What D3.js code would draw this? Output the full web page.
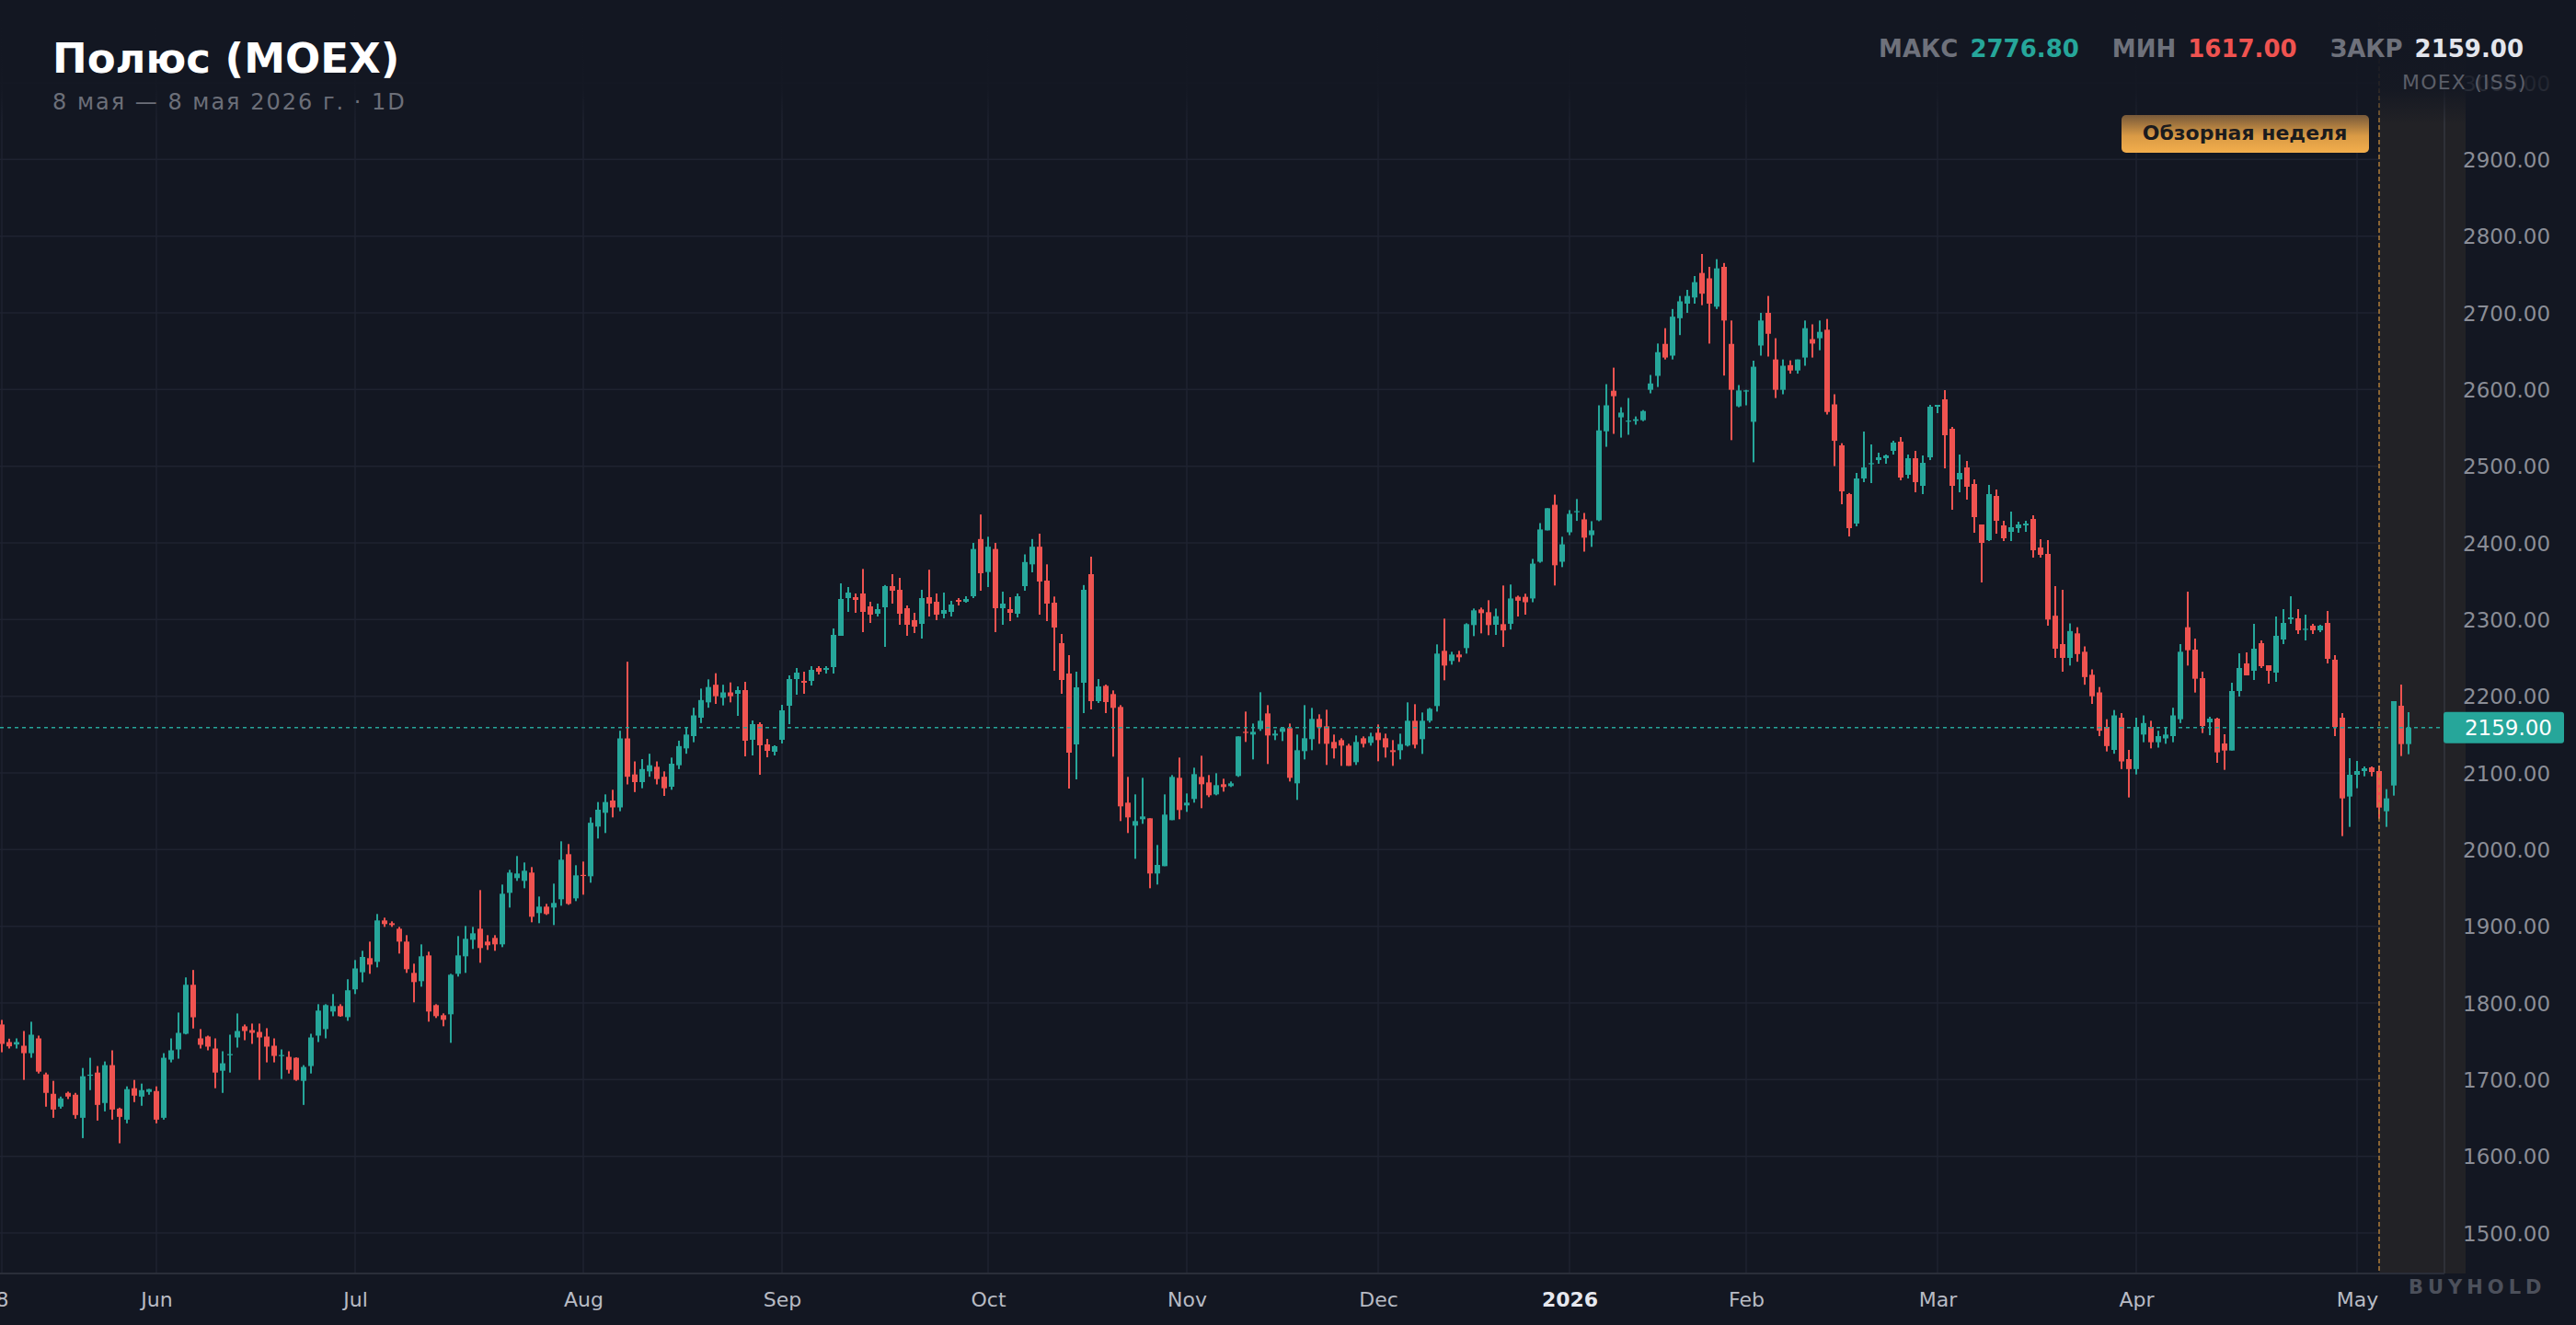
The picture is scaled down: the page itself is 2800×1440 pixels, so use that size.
<!DOCTYPE html>
<html>
<head>
<meta charset="utf-8">
<script src="https://cdn.jsdelivr.net/npm/d3@7"></script>
<style>
  html, body { margin: 0; padding: 0; background: #131722; }
  svg { display: block; font-family: "DejaVu Sans", sans-serif; }
</style>
</head>
<body>
<div id="chart"></div>
<script>
// Daily OHLC, Полюс (MOEX), one value per trading session
var open = [
  1771.9,1749.0,1745.8,1744.2,1734.5,1753.8,1706.8,1681.5,1664.7,1682.7,
  1680.3,1650.2,1705.6,1709.2,1669.5,1718.9,1662.2,1647.8,1688.8,1677.9,
  1683.9,1685.1,1650.2,1726.1,1739.4,1759.8,1823.7,1753.8,1756.2,1740.6,
  1711.6,1732.5,1755.0,1769.5,1764.6,1762.2,1756.2,1744.2,1730.9,1729.7,
  1728.5,1698.4,1717.7,1757.4,1765.9,1788.8,1796.0,1781.5,1817.7,1840.0,
  1858.4,1853.6,1907.6,1904.0,1896.8,1880.0,1839.2,1828.4,1862.0,1797.2,
  1784.0,1785.2,1838.0,1860.8,1882.4,1896.8,1880.0,1884.8,1876.4,1943.6,
  1962.8,1959.2,1970.0,1917.2,1925.6,1924.4,1935.2,1994.0,1936.4,1967.0,
  1965.2,2030.0,2048.0,2064.0,2055.0,2145.0,2098.0,2088.0,2102.0,2108.0,
  2095.0,2082.0,2110.0,2132.0,2148.0,2172.0,2192.0,2215.0,2198.0,2205.0,
  2203.2,2208.0,2143.2,2163.6,2137.2,2127.6,2143.2,2187.6,2222.4,2220.0,
  2220.0,2236.8,2234.4,2238.0,2278.8,2328.0,2329.2,2334.0,2317.2,2307.6,
  2316.0,2343.6,2338.8,2314.8,2299.2,2294.4,2329.2,2323.2,2307.6,2310.0,
  2325.6,2323.2,2330.4,2405.0,2362.0,2392.0,2314.8,2313.6,2307.6,2343.6,
  2372.0,2395.0,2350.8,2322.0,2269.2,2229.6,2137.2,2217.6,2359.2,2193.6,
  2213.6,2202.8,2186.0,2061.2,2031.2,2039.6,2040.8,1968.8,1978.4,2038.4,
  2093.6,2057.6,2066.0,2094.8,2087.6,2072.0,2085.2,2082.8,2096.0,2153.6,
  2150.0,2157.2,2177.6,2148.8,2153.6,2158.4,2086.4,2128.4,2144.0,2170.4,
  2160.8,2140.4,2142.8,2135.6,2114.0,2145.2,2139.2,2152.4,2145.2,2129.6,
  2129.6,2135.6,2168.0,2144.0,2168.0,2187.2,2259.2,2246.0,2254.4,2262.8,
  2292.8,2313.2,2309.6,2293.2,2294.0,2294.5,2329.6,2329.6,2327.5,2375.4,
  2416.3,2449.7,2375.4,2413.8,2440.6,2430.7,2410.1,2429.5,2545.5,2598.4,
  2563.7,2559.0,2559.1,2560.0,2599.6,2617.8,2659.5,2644.2,2693.0,2712.0,
  2720.0,2752.0,2745.0,2708.0,2760.0,2659.5,2578.1,2598.0,2557.9,2657.4,
  2700.0,2639.2,2599.6,2631.8,2624.8,2641.7,2665.7,2666.9,2678.0,2580.6,
  2527.2,2463.6,2425.2,2484.0,2503.2,2508.0,2510.4,2520.0,2532.0,2488.8,
  2510.4,2474.4,2511.6,2577.6,2587.2,2548.8,2482.8,2498.4,2476.8,2424.0,
  2403.6,2461.2,2422.8,2414.4,2419.2,2422.8,2431.2,2394.0,2385.6,2305.0,
  2268.0,2250.0,2282.0,2258.0,2228.0,2205.0,2160.0,2130.0,2172.0,2118.0,
  2105.0,2150.0,2160.0,2140.0,2145.0,2148.0,2170.0,2290.0,2260.8,2223.6,
  2166.0,2170.8,2138.4,2129.2,2206.8,2242.8,2233.2,2269.2,2240.4,2230.8,
  2274.0,2300.4,2301.6,2287.2,2292.0,2286.0,2295.6,2247.6,2172.0,2069.2,
  2097.6,2102.4,2107.2,2102.4,2050.0,2083.6,2187.6,2137.6
];
var high = [
  1777.9,1753.4,1753.8,1763.4,1775.5,1757.4,1709.2,1698.4,1677.9,1684.3,
  1682.7,1715.2,1728.5,1717.7,1723.7,1738.2,1663.4,1691.2,1699.6,1694.8,
  1688.0,1691.2,1734.5,1753.8,1787.5,1833.3,1843.0,1765.9,1757.4,1753.8,
  1737.0,1758.6,1786.3,1771.9,1773.1,1773.1,1767.1,1753.8,1739.4,1737.0,
  1729.0,1718.9,1759.8,1798.4,1798.4,1811.6,1798.4,1830.9,1856.0,1868.0,
  1880.0,1916.0,1911.2,1906.4,1899.2,1888.4,1851.2,1876.4,1866.8,1798.4,
  1786.4,1838.0,1887.2,1900.4,1899.2,1947.2,1888.4,1888.4,1954.4,1973.6,
  1991.6,1983.2,1977.2,1938.8,1929.2,1955.6,2010.8,2007.2,1979.6,1984.4,
  2042.0,2062.0,2072.0,2078.0,2155.0,2245.0,2115.0,2118.0,2125.0,2115.0,
  2102.0,2120.0,2142.0,2160.0,2185.0,2210.0,2222.0,2230.0,2215.0,2218.0,
  2212.8,2218.8,2168.4,2166.0,2144.4,2136.0,2188.8,2227.2,2236.8,2232.0,
  2239.2,2239.2,2239.2,2288.4,2347.2,2342.4,2334.0,2366.0,2323.2,2320.8,
  2345.0,2359.2,2354.4,2318.4,2308.8,2338.8,2365.0,2334.0,2335.2,2324.4,
  2328.0,2330.4,2400.0,2437.0,2408.0,2400.0,2336.4,2329.2,2334.0,2385.0,
  2405.0,2412.0,2372.0,2330.0,2281.2,2253.6,2232.0,2345.0,2382.0,2222.4,
  2215.2,2207.6,2188.4,2094.8,2072.0,2093.6,2040.8,2006.0,2072.0,2097.2,
  2120.0,2073.2,2106.8,2122.4,2097.2,2099.6,2092.4,2088.8,2147.6,2180.0,
  2164.4,2205.2,2188.4,2156.0,2159.6,2164.4,2150.0,2188.4,2184.8,2176.4,
  2182.4,2150.0,2145.2,2138.0,2148.8,2147.6,2152.4,2163.2,2151.2,2142.8,
  2151.2,2192.0,2189.6,2178.8,2184.8,2267.6,2301.2,2258.0,2259.2,2295.2,
  2314.4,2315.6,2325.2,2314.3,2344.4,2345.7,2331.2,2333.7,2379.1,2425.8,
  2445.2,2462.9,2408.0,2442.7,2457.2,2439.0,2428.3,2579.4,2607.0,2628.5,
  2576.9,2588.9,2564.9,2573.2,2619.0,2660.0,2680.0,2705.0,2722.0,2730.0,
  2748.0,2776.8,2760.0,2770.0,2765.0,2690.0,2605.8,2599.6,2637.6,2700.0,
  2722.0,2666.9,2639.2,2638.0,2639.2,2690.0,2685.0,2690.0,2692.0,2593.8,
  2530.0,2465.0,2491.2,2545.2,2528.4,2517.6,2515.2,2533.2,2538.0,2515.2,
  2520.0,2514.0,2580.0,2580.0,2599.2,2551.2,2515.2,2506.8,2482.8,2424.0,
  2475.6,2469.6,2428.8,2440.8,2427.6,2428.8,2436.0,2404.8,2403.6,2343.6,
  2338.8,2295.0,2290.0,2265.0,2235.0,2212.0,2170.0,2182.0,2178.0,2130.0,
  2172.0,2175.0,2168.0,2155.0,2160.0,2185.0,2268.0,2336.4,2275.2,2232.0,
  2173.2,2172.0,2150.4,2217.6,2256.0,2257.2,2294.4,2272.8,2240.4,2304.0,
  2313.6,2330.4,2313.6,2306.4,2294.4,2293.2,2311.2,2253.6,2178.0,2119.2,
  2115.6,2108.4,2108.4,2109.6,2078.8,2193.6,2215.2,2179.2
];
var low = [
  1735.7,1740.6,1740.6,1699.6,1728.5,1708.0,1664.7,1650.2,1662.2,1674.7,
  1649.0,1623.7,1686.3,1646.6,1658.6,1647.8,1617.0,1643.0,1670.7,1665.9,
  1680.3,1643.0,1647.8,1722.5,1727.3,1759.0,1766.7,1740.6,1738.2,1688.8,
  1682.7,1709.2,1741.8,1751.4,1746.6,1699.6,1722.5,1722.5,1700.8,1708.0,
  1698.4,1667.0,1708.0,1749.0,1753.8,1782.7,1782.0,1776.7,1811.6,1827.0,
  1838.0,1846.4,1899.2,1899.2,1864.4,1839.2,1800.8,1821.2,1775.6,1780.4,
  1769.6,1748.0,1834.4,1839.2,1870.4,1852.4,1869.2,1868.0,1872.8,1924.4,
  1959.2,1949.6,1905.2,1904.0,1914.8,1901.6,1926.8,1928.0,1932.8,1941.2,
  1956.8,2014.4,2021.6,2042.0,2050.0,2085.0,2075.0,2080.0,2095.0,2085.0,
  2070.0,2078.0,2105.0,2125.0,2140.0,2165.0,2185.0,2190.0,2188.0,2192.0,
  2174.4,2121.6,2122.8,2097.6,2120.4,2122.8,2138.4,2163.6,2202.0,2203.2,
  2214.0,2228.4,2229.6,2229.6,2278.8,2310.0,2308.8,2283.6,2295.6,2304.0,
  2264.4,2320.8,2293.2,2278.8,2282.4,2275.2,2304.0,2299.2,2301.6,2304.0,
  2318.4,2322.0,2328.0,2337.6,2342.4,2283.6,2293.2,2298.0,2302.8,2337.6,
  2361.6,2306.4,2298.0,2233.2,2203.2,2079.6,2091.6,2178.0,2182.8,2191.2,
  2178.0,2121.2,2037.2,2021.6,1988.0,2033.6,1949.6,1954.4,1978.4,2038.4,
  2039.6,2049.2,2061.2,2054.0,2068.4,2070.8,2075.6,2081.6,2094.8,2140.4,
  2117.6,2154.8,2111.6,2142.8,2141.6,2088.8,2064.8,2117.6,2129.6,2138.0,
  2110.4,2118.8,2109.2,2109.2,2110.4,2133.2,2135.6,2115.2,2120.0,2109.2,
  2117.6,2134.4,2132.0,2124.8,2165.6,2180.0,2220.8,2241.2,2244.8,2255.6,
  2278.4,2282.0,2279.6,2280.0,2264.3,2287.0,2304.0,2306.4,2322.6,2374.1,
  2416.3,2344.4,2368.4,2410.1,2428.7,2388.6,2394.8,2428.3,2525.3,2542.2,
  2537.3,2541.0,2554.2,2558.7,2595.0,2603.3,2639.2,2639.2,2671.0,2700.0,
  2712.0,2710.0,2659.9,2705.0,2618.2,2534.0,2576.9,2579.4,2505.1,2644.2,
  2643.0,2588.9,2593.8,2620.7,2620.7,2631.0,2641.7,2651.2,2567.4,2500.1,
  2450.4,2408.4,2421.6,2479.2,2478.0,2503.2,2503.2,2515.2,2481.6,2484.0,
  2466.0,2463.6,2508.0,2569.2,2497.2,2443.2,2466.0,2456.4,2413.2,2348.4,
  2402.4,2412.0,2402.4,2402.4,2413.2,2414.4,2380.8,2380.8,2292.0,2250.0,
  2232.0,2240.0,2245.0,2215.0,2190.0,2148.0,2128.0,2125.0,2105.0,2068.0,
  2098.0,2140.0,2132.0,2133.0,2138.0,2140.0,2165.0,2240.0,2204.8,2152.0,
  2149.2,2113.2,2104.0,2129.2,2199.6,2227.2,2221.2,2236.8,2216.4,2218.8,
  2268.0,2294.4,2281.2,2272.8,2281.2,2283.6,2242.8,2148.0,2017.6,2029.6,
  2080.0,2095.6,2095.6,2040.4,2029.6,2070.4,2122.0,2124.4
];
var close = [
  1746.6,1743.4,1749.0,1734.5,1758.6,1710.4,1682.7,1661.0,1675.5,1677.9,
  1653.8,1704.4,1706.5,1667.0,1718.9,1661.0,1651.4,1687.6,1679.1,1686.3,
  1687.6,1647.8,1728.5,1738.2,1761.0,1823.7,1781.3,1745.4,1743.0,1709.2,
  1721.3,1733.3,1763.4,1763.4,1761.0,1755.0,1743.0,1730.9,1732.1,1712.8,
  1699.6,1716.5,1755.0,1790.0,1797.2,1796.0,1782.7,1816.5,1845.0,1860.0,
  1850.0,1907.6,1902.8,1901.6,1880.0,1844.0,1827.2,1860.8,1788.8,1782.8,
  1778.0,1836.8,1862.0,1883.6,1890.8,1871.6,1875.2,1876.4,1942.4,1970.0,
  1968.8,1972.4,1912.4,1925.6,1916.0,1930.4,1986.8,1929.2,1966.4,1966.0,
  2035.0,2052.0,2062.0,2055.0,2145.0,2095.0,2088.0,2105.0,2110.0,2092.0,
  2080.0,2112.0,2135.0,2150.0,2175.0,2195.0,2212.0,2200.0,2205.0,2200.0,
  2208.0,2142.0,2163.6,2136.0,2128.8,2134.8,2181.6,2222.4,2230.8,2217.6,
  2234.4,2232.0,2236.8,2280.0,2326.8,2335.2,2325.6,2310.0,2306.4,2313.6,
  2343.6,2337.6,2307.6,2293.2,2290.8,2328.0,2320.8,2306.4,2312.4,2319.6,
  2323.2,2326.8,2392.0,2360.4,2395.0,2314.8,2320.8,2308.8,2330.4,2375.0,
  2395.0,2349.6,2320.8,2289.6,2221.2,2126.4,2211.6,2338.8,2193.6,2212.8,
  2192.4,2184.8,2056.4,2042.0,2037.2,2043.2,1968.8,1980.0,2045.6,2094.8,
  2051.6,2061.2,2098.4,2085.2,2070.8,2084.0,2081.6,2086.4,2147.6,2152.4,
  2153.6,2168.0,2148.8,2151.2,2158.4,2093.6,2129.6,2145.2,2170.4,2159.6,
  2138.0,2132.0,2135.6,2109.2,2140.4,2138.0,2147.6,2142.8,2133.2,2127.2,
  2137.6,2168.0,2136.8,2168.0,2183.6,2255.6,2240.0,2254.4,2250.8,2294.0,
  2312.0,2308.4,2292.8,2304.4,2285.8,2327.5,2324.6,2322.6,2372.9,2417.5,
  2445.2,2370.8,2398.1,2437.8,2441.4,2406.8,2416.3,2546.7,2579.4,2591.3,
  2569.9,2559.5,2561.2,2571.9,2607.9,2648.7,2641.7,2695.0,2715.0,2722.0,
  2740.0,2725.0,2712.0,2758.0,2690.0,2599.6,2598.8,2598.8,2629.7,2690.0,
  2672.7,2599.6,2631.0,2624.8,2639.2,2680.0,2659.9,2675.2,2570.7,2533.1,
  2467.2,2419.2,2484.0,2498.4,2504.0,2511.6,2514.0,2530.8,2485.2,2510.4,
  2479.2,2504.4,2577.6,2580.0,2540.4,2474.4,2491.2,2473.2,2433.6,2400.0,
  2463.6,2428.8,2406.0,2420.4,2424.0,2425.2,2390.4,2384.4,2300.0,2262.0,
  2250.0,2285.0,2255.0,2225.0,2200.0,2155.0,2135.0,2175.0,2115.0,2105.0,
  2160.0,2165.0,2140.0,2148.0,2150.0,2175.0,2258.0,2260.0,2222.8,2161.2,
  2170.8,2126.8,2129.2,2206.8,2236.8,2227.2,2262.0,2239.2,2233.2,2278.8,
  2295.6,2302.8,2286.0,2288.0,2286.0,2292.0,2248.8,2160.0,2066.8,2097.6,
  2102.4,2106.0,2101.2,2054.8,2066.8,2193.6,2137.6,2159.0
];

// x-axis ticks (session index) and their labels
var tickIndex = [0, 21, 48, 79, 106, 134, 161, 187, 213, 237, 263, 290, 320];
var tickLabels = ["8", "Jun", "Jul", "Aug", "Sep", "Oct", "Nov", "Dec", "2026", "Feb", "Mar", "Apr", "May"];
var priceTicks = d3.range(1500, 3001, 100);
var reviewStart = 323;   // first session of "Обзорная неделя"

var svgWidth = 2800;
var svgHeight = 1440;
var plotRight = 2657;
var plotBottom = 1384;

var upColor = "#26a69a";
var downColor = "#ef5350";
var bgColor = "#131722";

var svg = d3.select("#chart")
  .append("svg")
  .attr("width", svgWidth)
  .attr("height", svgHeight);

svg.append("rect")
  .attr("width", svgWidth)
  .attr("height", svgHeight)
  .attr("fill", bgColor);

var defs = svg.append("defs");
defs.append("clipPath").attr("id", "plotClip")
  .append("rect").attr("x", 0).attr("y", 0).attr("width", plotRight).attr("height", plotBottom);

// header fades the top of the plot
var fade = defs.append("linearGradient").attr("id", "topFade")
  .attr("x1", 0).attr("y1", 0).attr("x2", 0).attr("y2", 1);
fade.append("stop").attr("offset", 0).attr("stop-color", bgColor).attr("stop-opacity", 1);
fade.append("stop").attr("offset", 0.45).attr("stop-color", bgColor).attr("stop-opacity", 0.97);
fade.append("stop").attr("offset", 0.72).attr("stop-color", bgColor).attr("stop-opacity", 0.85);
fade.append("stop").attr("offset", 1).attr("stop-color", bgColor).attr("stop-opacity", 0);

var badgeGrad = defs.append("linearGradient").attr("id", "badgeGrad")
  .attr("x1", 0).attr("y1", 0).attr("x2", 0).attr("y2", 1);
badgeGrad.append("stop").attr("offset", 0).attr("stop-color", "#77593a");
badgeGrad.append("stop").attr("offset", 0.55).attr("stop-color", "#d99a45");
badgeGrad.append("stop").attr("offset", 1).attr("stop-color", "#f3ae4c");

// Data table
// ==============================
var candles = close.map(function(c, i) {
  return { i: i, o: open[i], h: high[i], l: low[i], c: c };
});

// Scales
// ==============================
var xScale = d3.scaleLinear()
  .domain([0, candles.length - 1])
  .range([2, 2618]);

var yScale = d3.scaleLinear()
  .domain([1500, 2900])
  .range([1340, 173.33]);

// Grid
// ==============================
var grid = svg.append("g");
grid.selectAll(".hgrid")
  .data(priceTicks)
  .enter().append("line")
  .attr("x1", 0).attr("x2", plotRight)
  .attr("y1", d => yScale(d)).attr("y2", d => yScale(d))
  .attr("stroke", "#1f2330").attr("stroke-width", 1.5);

grid.selectAll(".vgrid")
  .data(tickIndex)
  .enter().append("line")
  .attr("x1", d => xScale(d)).attr("x2", d => xScale(d))
  .attr("y1", 0).attr("y2", plotBottom)
  .attr("stroke", "#1f2330").attr("stroke-width", 1.5);

// review week shading
svg.append("rect")
  .attr("x", xScale(reviewStart))
  .attr("y", 0)
  .attr("width", 2680 - xScale(reviewStart))
  .attr("height", plotBottom)
  .attr("fill", "#222226");

// plot frame
svg.append("line")
  .attr("x1", plotRight).attr("x2", plotRight)
  .attr("y1", 0).attr("y2", plotBottom)
  .attr("stroke", "#34373f").attr("stroke-width", 1.5);
svg.append("line")
  .attr("x1", 0).attr("x2", plotRight)
  .attr("y1", plotBottom).attr("y2", plotBottom)
  .attr("stroke", "#2a2e39").attr("stroke-width", 2);

// Candles
// ==============================
var candleGroup = svg.append("g").attr("clip-path", "url(#plotClip)");

var candle = candleGroup.selectAll("g.candle")
  .data(candles)
  .enter().append("g")
  .attr("class", "candle");

candle.append("rect")
  .attr("x", d => xScale(d.i) - 1)
  .attr("width", 2)
  .attr("y", d => yScale(d.h))
  .attr("height", d => Math.max(1, yScale(d.l) - yScale(d.h)))
  .attr("fill", d => d.c >= d.o ? upColor : downColor);

candle.append("rect")
  .attr("x", d => xScale(d.i) - 3)
  .attr("width", 6)
  .attr("y", d => yScale(Math.max(d.o, d.c)))
  .attr("height", d => Math.max(1.2, Math.abs(yScale(d.o) - yScale(d.c))))
  .attr("fill", d => d.c >= d.o ? upColor : downColor);

// last price line
var lastClose = close[close.length - 1];
svg.append("line")
  .attr("x1", 0).attr("x2", plotRight)
  .attr("y1", yScale(lastClose)).attr("y2", yScale(lastClose))
  .attr("stroke", upColor).attr("stroke-width", 1.5)
  .attr("stroke-dasharray", "4,4");

// review week marker
svg.append("line")
  .attr("x1", xScale(reviewStart)).attr("x2", xScale(reviewStart))
  .attr("y1", 0).attr("y2", plotBottom)
  .attr("stroke", "#c88d3e").attr("stroke-width", 1.5)
  .attr("stroke-opacity", 0.85)
  .attr("stroke-dasharray", "5,3");

// Axes
// ==============================
var rightAxis = d3.axisRight(yScale)
  .tickValues(priceTicks)
  .tickFormat(d3.format(".2f"))
  .tickSize(0)
  .tickPadding(20);

var yAxis = svg.append("g")
  .attr("transform", `translate(${plotRight}, 0)`)
  .call(rightAxis);
yAxis.select(".domain").remove();
yAxis.selectAll("text")
  .attr("dy", "0.36em")
  .attr("fill", "#8a8d96")
  .style("font-size", "23px")
  .style("font-family", "DejaVu Sans");

var bottomAxis = d3.axisBottom(xScale)
  .tickValues(tickIndex)
  .tickFormat((d, i) => tickLabels[i])
  .tickSize(0)
  .tickPadding(20);

var xAxis = svg.append("g")
  .attr("transform", `translate(0, ${plotBottom})`)
  .call(bottomAxis);
xAxis.select(".domain").remove();
xAxis.selectAll("text")
  .attr("fill", d => d === 213 ? "#e6e8ee" : "#b8bbc4")
  .style("font-weight", d => d === 213 ? "bold" : "normal")
  .style("font-size", "22px")
  .style("font-family", "DejaVu Sans");

// last price tag
svg.append("rect")
  .attr("x", plotRight - 1).attr("y", yScale(lastClose) - 17)
  .attr("width", 131).attr("height", 34)
  .attr("rx", 3)
  .attr("fill", upColor);
svg.append("text")
  .attr("x", 2774).attr("y", yScale(lastClose))
  .attr("dy", "0.36em")
  .attr("text-anchor", "end")
  .attr("fill", "#ffffff")
  .style("font-size", "23px")
  .text(d3.format(".2f")(lastClose));

// Header
// ==============================
svg.append("rect")
  .attr("x", 0).attr("y", 0)
  .attr("width", svgWidth).attr("height", 135)
  .attr("fill", "url(#topFade)");

svg.append("text")
  .attr("x", 57).attr("y", 79)
  .attr("fill", "#ffffff")
  .style("font-size", "45px")
  .style("font-weight", "bold")
  .text("Полюс (MOEX)");

svg.append("text")
  .attr("x", 57).attr("y", 119)
  .attr("fill", "#6c6f79")
  .style("font-size", "24px")
  .style("letter-spacing", "2px")
  .text("8 мая — 8 мая 2026 г. · 1D");

var stats = [
  { label: "ЗАКР", value: lastClose, color: "#e3e5ec" },
  { label: "МИН", value: d3.min(low), color: downColor },
  { label: "МАКС", value: d3.max(high), color: upColor }
];
var statX = 2743;
stats.forEach(function(s) {
  var v = svg.append("text")
    .attr("x", statX).attr("y", 62)
    .attr("text-anchor", "end")
    .attr("fill", s.color)
    .style("font-size", "26px")
    .style("font-weight", "bold")
    .text(d3.format(".2f")(s.value));
  var vw = v.node().getComputedTextLength();
  var l = svg.append("text")
    .attr("x", statX - vw - 13).attr("y", 62)
    .attr("text-anchor", "end")
    .attr("fill", "#6e717b")
    .style("font-size", "26px")
    .style("font-weight", "bold")
    .text(s.label);
  var lw = l.node().getComputedTextLength();
  statX = statX - vw - 13 - lw - 36;
});

svg.append("text")
  .attr("x", 2611).attr("y", 97)
  .attr("fill", "#5b5e68")
  .style("font-size", "22px")
  .style("letter-spacing", "1.2px")
  .text("MOEX (ISS)");

// review week badge
svg.append("rect")
  .attr("x", 2306).attr("y", 125)
  .attr("width", 269).attr("height", 41)
  .attr("rx", 5)
  .attr("fill", "url(#badgeGrad)");
svg.append("text")
  .attr("x", 2440).attr("y", 152)
  .attr("text-anchor", "middle")
  .attr("fill", "#1b1b1e")
  .style("font-size", "22px")
  .style("font-weight", "bold")
  .text("Обзорная неделя");

// watermark
svg.append("text")
  .attr("x", 2618).attr("y", 1406)
  .attr("fill", "#4c505b")
  .style("font-size", "21px")
  .style("font-weight", "bold")
  .style("letter-spacing", "5px")
  .text("BUYHOLD");
</script>
</body>
</html>
